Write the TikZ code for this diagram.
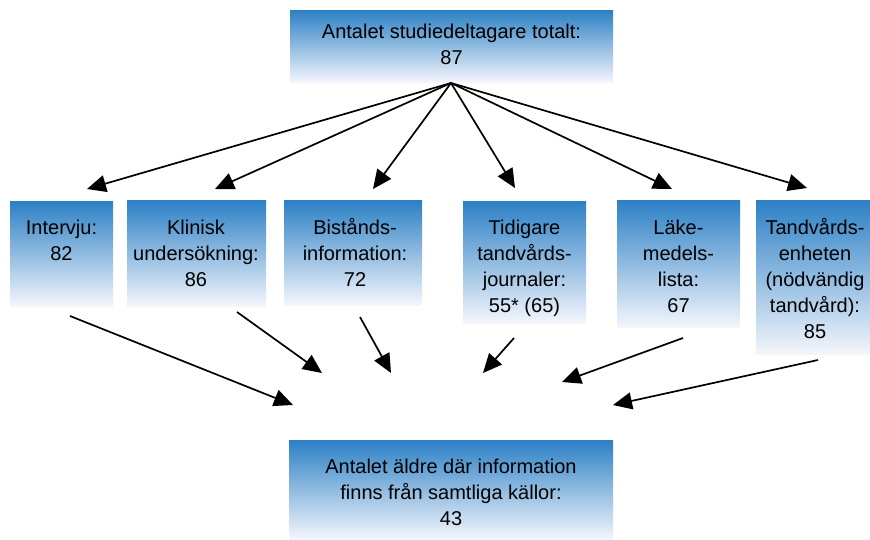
\documentclass[tikz,border=0pt]{standalone}
\usepackage{fontspec}
\setmainfont{Liberation Sans}
\usetikzlibrary{arrows.meta}
\definecolor{topblue}{RGB}{44,128,197}
\definecolor{botblue}{RGB}{244,246,252}
\tikzset{
  box/.style={rectangle, draw=none, inner sep=0pt, anchor=north west,
    top color=topblue, bottom color=botblue},
  txt/.style={anchor=north, inner sep=0pt, align=center,
    font=\fontsize{20}{26}\selectfont, text=black},
  arr/.style={line width=1.7pt, -{Triangle[length=19pt,width=17pt]}},
}
\begin{document}
\begin{tikzpicture}[x=1pt,y=-1pt]
\useasboundingbox (0,0) rectangle (870,539);
% boxes
\node[box, minimum width=323pt, minimum height=72pt] (btop) at (290,10) {};
\node[box, minimum width=103pt, minimum height=105pt] (b1) at (10,201) {};
\node[box, minimum width=139pt, minimum height=106pt] (b2) at (127,200) {};
\node[box, minimum width=138pt, minimum height=105pt] (b3) at (284,200) {};
\node[box, minimum width=123pt, minimum height=122pt] (b4) at (463,201) {};
\node[box, minimum width=123pt, minimum height=127pt] (b5) at (617,200) {};
\node[box, minimum width=114pt, minimum height=154pt] (b6) at (756,200) {};
\node[box, minimum width=324pt, minimum height=99pt] (bbot) at (289,440) {};
% texts
\node[txt] (ttop) at (451.5,19.8) {\strut Antalet studiedeltagare totalt:\\87};
\node[txt] (t1) at (61.5,215.8) {\strut Intervju:\\82};
\node[txt] (t2) at (196,215.8) {\strut Klinisk\\undersökning:\\86};
\node[txt] (t3) at (355,215.8) {\strut Bistånds-\\information:\\72};
\node[txt] (t4) at (524.5,215.8) {\strut Tidigare\\tandvårds-\\journaler:\\55* (65)};
\node[txt] (t5) at (678.5,215.8) {\strut Läke-\\medels-\\lista:\\67};
\node[txt] (t6) at (815,215.8) {\strut Tandvårds-\\enheten\\(nödvändig\\tandvård):\\85};
\node[txt] (tbot) at (451,454.8) {\strut Antalet äldre där information\\finns från samtliga källor:\\43};
% arrow coordinates
\coordinate (apex) at (451,83);
\coordinate (u1) at (87,189);
\coordinate (u2) at (215,189);
\coordinate (u3) at (373,189);
\coordinate (u4) at (515,188);
\coordinate (u5) at (672,189);
\coordinate (u6) at (807,188);
\coordinate (s1) at (70,316);
\coordinate (s2) at (237,312);
\coordinate (s3) at (360,317);
\coordinate (s4) at (514,338);
\coordinate (s5) at (683,338);
\coordinate (s6) at (818,360);
\coordinate (e1) at (293,405);
\coordinate (e2) at (322,373);
\coordinate (e3) at (391,373);
\coordinate (e4) at (483,373);
\coordinate (e5) at (562,382);
\coordinate (e6) at (613,405);
\foreach \i in {1,...,6}{
  \draw[arr] (apex) -- (u\i);
  \draw[arr] (s\i) -- (e\i);
}
\end{tikzpicture}
\end{document}
